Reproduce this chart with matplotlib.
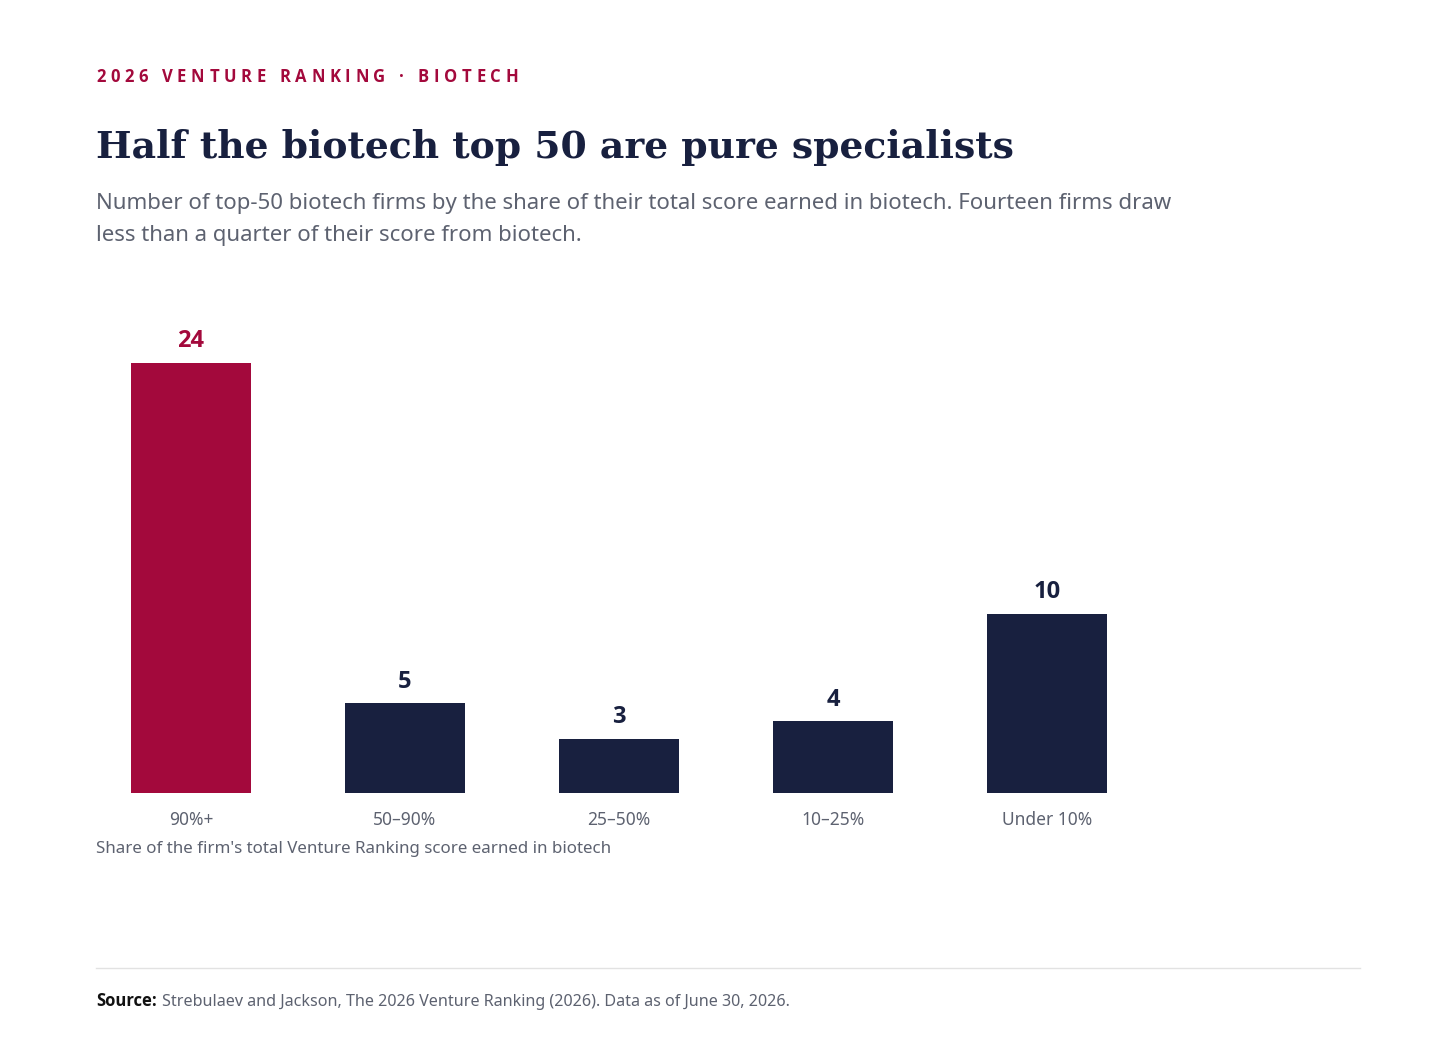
import matplotlib.pyplot as plt

categories = ["90%+", "50–90%", "25–50%", "10–25%", "Under 10%"]
firms = [24, 5, 3, 4, 10]
highlight = [True, False, False, False, False]

RED = "#A3093C"
NAVY = "#18203F"
GREY = "#5D6270"
W, H = 1456, 1048

plt.rcParams["font.family"] = ["Noto Sans", "DejaVu Sans"]
BOLD = ["Open Sans", "DejaVu Sans"]

fig = plt.figure(figsize=(14.56, 10.48), dpi=100)
ax = fig.add_axes([96 / W, 255 / H, 1264 / W, 493 / H])

x = list(range(len(categories)))
colors = [RED if h else NAVY for h in highlight]
bars = ax.bar(x, firms, width=0.56, color=colors)

for xi, v, c in zip(x, firms, colors):
    ax.annotate(str(v), (xi, v), xytext=(0, 7), textcoords="offset points",
                ha="center", va="bottom", fontsize=17, fontweight="bold", color=c,
                family=BOLD)

ax.set_xlim(-0.444, 5.463)
ax.set_ylim(0, 27.5)
ax.set_xticks(x)
ax.set_xticklabels(categories, fontsize=12.5, color=GREY)
ax.tick_params(axis="x", length=0, pad=13)
ax.set_yticks([])
for s in ax.spines.values():
    s.set_visible(False)

# kicker with letter spacing, one character at a time
fig.canvas.draw()
r = fig.canvas.get_renderer()
kx = 96
for ch in "2026 VENTURE RANKING · BIOTECH":
    t = fig.text(kx / W, 1 - 82 / H, ch, fontsize=12, fontweight="bold",
                 color=RED, va="baseline", family=BOLD)
    if ch == " ":
        kx += 9
    else:
        kx += t.get_window_extent(r).width + 4.7

fig.text(96 / W, 1 - 158 / H, "Half the biotech top 50 are pure specialists",
         fontsize=27.2, fontweight="bold", color=NAVY, va="baseline",
         family=["DejaVu Serif"])
fig.text(96 / W, 1 - 209 / H,
         "Number of top-50 biotech firms by the share of their total score earned in biotech. Fourteen firms draw",
         fontsize=16, color=GREY, va="baseline")
fig.text(96 / W, 1 - 241 / H, "less than a quarter of their score from biotech.",
         fontsize=16, color=GREY, va="baseline")

# axis caption
fig.text(96 / W, 1 - 853 / H,
         "Share of the firm's total Venture Ranking score earned in biotech",
         fontsize=12.2, color=GREY, va="baseline")

# footer
fig.add_artist(plt.Line2D([96 / W, 1360 / W], [1 - 968 / H] * 2,
                          color="#E2E2E2", linewidth=1))
src = fig.text(96 / W, 1 - 1006 / H, "Source:", fontsize=12, fontweight="bold",
               color="#111111", va="baseline", family=BOLD)
bb = src.get_window_extent(r)
fig.text((bb.x1 + 5) / W, 1 - 1006 / H,
         "Strebulaev and Jackson, The 2026 Venture Ranking (2026). Data as of June 30, 2026.",
         fontsize=11.6, color=GREY, va="baseline")

fig.savefig("out.png", dpi=100, facecolor="white")
